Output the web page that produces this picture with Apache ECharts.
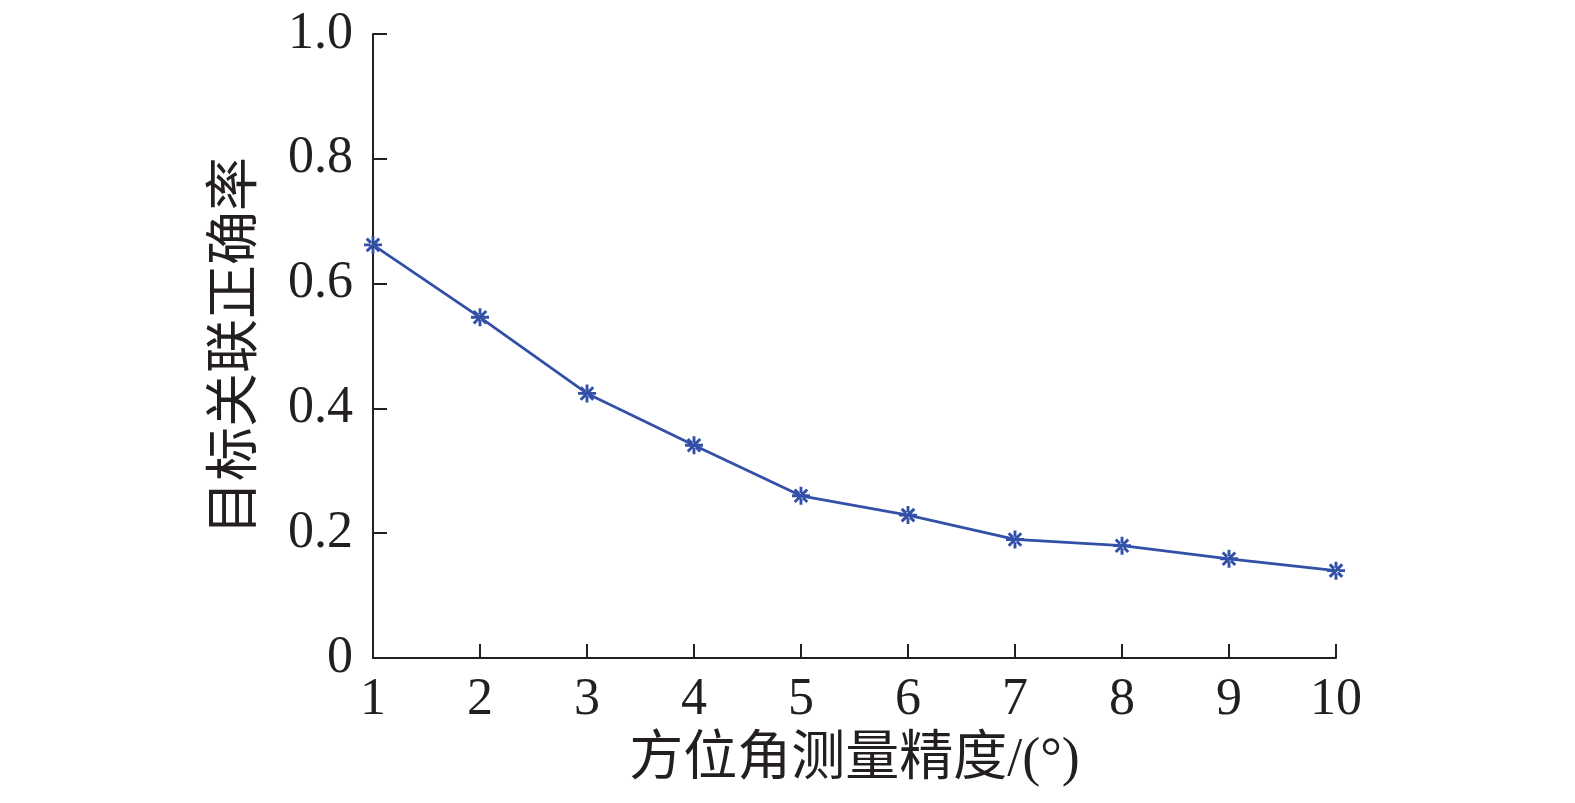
<!DOCTYPE html>
<html>
<head>
<meta charset="utf-8">
<script src="https://cdn.jsdelivr.net/npm/echarts@6/dist/echarts.min.js"></script>
<style>
  html, body { margin: 0; padding: 0; background: #fff; }
  #chart { width: 1575px; height: 803px; }
</style>
</head>
<body>
<div id="chart"></div>
<script>
// 方位角测量精度 (°)
var precision = [1, 2, 3, 4, 5, 6, 7, 8, 9, 10];
// 目标关联正确率
var accuracy = [0.662, 0.546, 0.424, 0.341, 0.260, 0.229, 0.190, 0.180, 0.159, 0.140];

var xName = '方位角测量精度/(°)';
var yName = '目标关联正确率';

var fontFam = '"Liberation Serif", "Times New Roman", "Noto Sans CJK SC", serif';
var ink = '#231f20';
var blue = '#3350a8';

// 星号标记: 十字 + 斜叉
var star = 'path://M-1.6,-10L1.6,-10L1.6,10L-1.6,10Z M-10,-1.6L10,-1.6L10,1.6L-10,1.6Z ' +
  'M-5.8,-8.1L-8.1,-5.8L5.8,8.1L8.1,5.8Z M5.8,-8.1L8.1,-5.8L-5.8,8.1L-8.1,5.8Z';

var myChart = echarts.init(document.getElementById('chart'));
var option = {
  animation: false,
  grid: {
    left: 373,
    right: 239,
    top: 34,
    bottom: 145
  },
  xAxis: {
    type: 'value',
    min: 1,
    max: 10,
    interval: 1,
    name: xName,
    nameLocation: 'middle',
    nameGap: 76,
    nameTextStyle: { fontFamily: fontFam, fontSize: 54, color: ink },
    axisLine: { lineStyle: { color: ink, width: 2 } },
    axisTick: { inside: true, length: 14, lineStyle: { color: ink, width: 2 } },
    axisLabel: { fontFamily: fontFam, fontSize: 52, color: ink, margin: 16 },
    splitLine: { show: false }
  },
  yAxis: {
    type: 'value',
    min: 0,
    max: 1,
    interval: 0.2,
    name: yName,
    nameLocation: 'middle',
    nameGap: 108,
    nameTextStyle: { fontFamily: fontFam, fontSize: 54, color: ink },
    axisLine: { show: true, lineStyle: { color: ink, width: 2 } },
    axisTick: { show: true, inside: true, length: 14, lineStyle: { color: ink, width: 2 } },
    axisLabel: {
      fontFamily: fontFam, fontSize: 52, color: ink, margin: 20,
      formatter: function (v) { return v === 0 ? '0' : v.toFixed(1); }
    },
    splitLine: { show: false }
  },
  series: [{
    type: 'line',
    data: precision.map(function (p, i) { return [p, accuracy[i]]; }),
    symbol: star,
    symbolSize: 18,
    showAllSymbol: true,
    lineStyle: { color: blue, width: 2.8 },
    itemStyle: { color: blue, borderWidth: 0 }
  }]
};
myChart.setOption(option);
window.addEventListener('resize', function () { myChart.resize(); });
</script>
</body>
</html>
